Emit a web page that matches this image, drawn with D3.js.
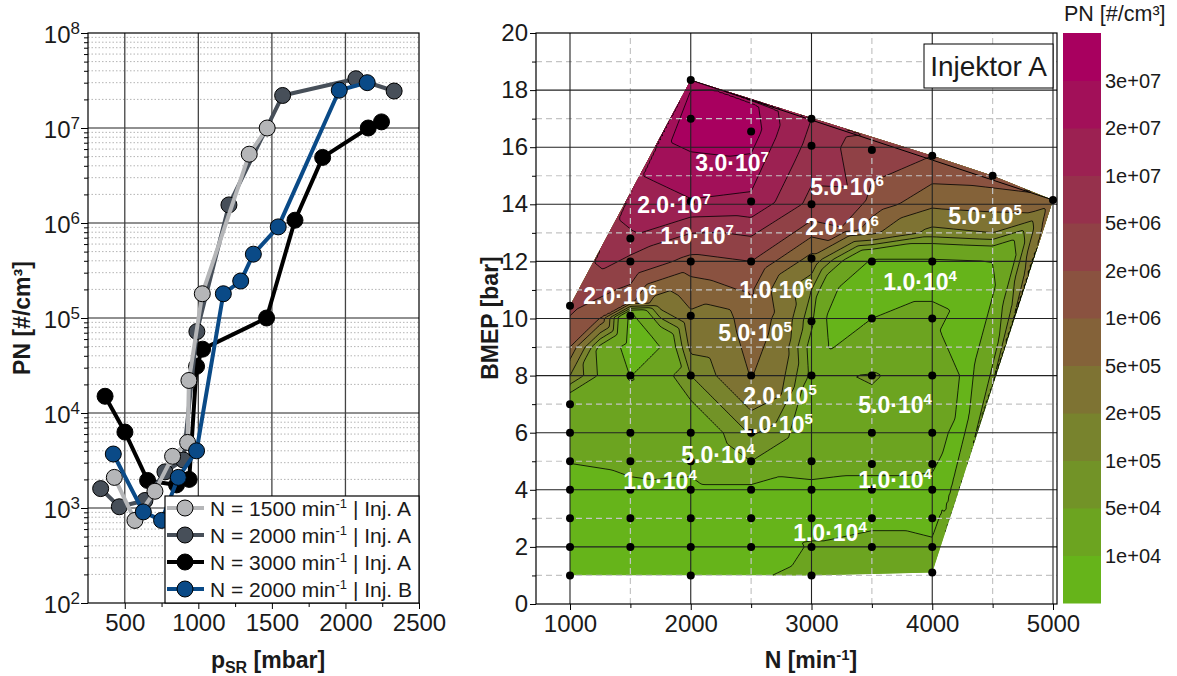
<!DOCTYPE html>
<html>
<head>
<meta charset="utf-8">
<script src="https://cdn.jsdelivr.net/npm/d3@7"></script>
<style>
  body { margin: 0; background: #fff; }
  svg { font-family: "Liberation Sans", Arial, sans-serif; }
</style>
</head>
<body>
<svg id="chart" width="1177" height="676"></svg>
<script>
// ---------- data: left panel, PN over rail pressure ----------
const pSR1500A = [429, 569, 705, 825, 927, 936, 1027, 1346, 1468]
const pn1500A = [2.1e3, 740, 1.5e3, 3.5e3, 4.9e3, 2.2e4, 1.8e5, 5.3e6, 1.0e7]
const pSR2000A = [336, 463, 637, 773, 898, 990, 1208, 1573, 2071, 2331]
const pn2000A = [1.6e3, 1.03e3, 1.2e3, 2.4e3, 3.2e3, 7.2e4, 1.55e6, 2.2e7, 3.3e7, 2.45e7]
const pSR3000A = [366, 501, 655, 852, 938, 988, 1029, 1464, 1657, 1845, 2155, 2245]
const pn3000A = [1.5e4, 6.3e3, 1.95e3, 1.75e3, 2.0e3, 3.1e4, 4.7e4, 1.0e5, 1.07e6, 4.9e6, 1.0e7, 1.16e7]
const pSR2000B = [422, 626, 750, 864, 988, 1170, 1288, 1374, 1543, 1958, 2148]
const pn2000B = [3.7e3, 910, 740, 2.1e3, 4.0e3, 1.8e5, 2.45e5, 4.7e5, 9.1e5, 2.5e7, 3.0e7]

const seriesNames = ['1500', '2000', '3000', '2000']
const seriesInj = ['A', 'A', 'A', 'B']
const seriesColors = ['#b5b6b8', '#474f59', '#000000', '#0a4a87']

// ---------- data: right panel, measured PN map [BMEP, PN] per engine speed ----------
const map1000 = [[1, 5e3], [2, 5e3], [3, 5e3], [4, 5.5e3], [5, 1.05e4], [6, 1.2e4], [7, 2e4], [10.45, 2.5e6]]
const map1500 = [[2, 5e3], [3, 6e3], [4, 8e3], [5, 1.3e4], [6, 1.6e4], [8, 9.5e3], [10.1, 7e3], [12, 4e6], [12.8, 9e6]]
const map2000 = [[1, 5e3], [2, 5e3], [3, 6e3], [4, 7e3], [5, 1.5e4], [6, 2e4], [8, 1e5], [10.1, 4.5e5], [12, 1.5e6], [14.1, 1.95e7], [17, 4e7], [18.35, 2.7e7]]
const map2500 = [[2, 5e3], [3, 6e3], [4, 7e3], [5, 5e4], [6, 1.1e5], [8, 5.2e5], [12, 2e6], [14.1, 1.8e7], [16.55, 3.8e7]]
const map3000 = [[1, 1.4e4], [2, 1.1e4], [3, 7e3], [4, 8e3], [5, 1.5e4], [8, 4e4], [9.9, 6e4], [12.1, 4e5], [14, 4e6], [16.05, 8e6], [17, 1e7]]
const map3500 = [[2, 1.6e4], [3, 7e3], [4, 8e3], [4.9, 1.2e4], [6, 3e4], [8, 5.5e4], [10, 1e4], [12, 8e3], [15.9, 3e6]]
const map4000 = [[1.1, 1.3e4], [2, 1.2e4], [3, 7e3], [4, 7e3], [4.9, 1.2e4], [6, 1.5e4], [8, 3e4], [10, 1.1e4], [12, 8e3], [15.7, 2e6]]
const map4500 = [[15, 1.3e6]]
const map5000 = [[14.15, 9e5]]
const mapSpeeds = [1000, 1500, 2000, 2500, 3000, 3500, 4000, 4500, 5000]
const mapCols = [map1000, map1500, map2000, map2500, map3000, map3500, map4000, map4500, map5000]

const mapRead = [
  [1000, 8, 2e5], [1000, 9, 1e6], [1250, 9, 4e4], [1250, 10, 1e6], [1500, 9, 5e3],
  [1500, 10.6, 1.2e6], [1750, 9, 1e4], [1750, 10.5, 3e5], [2000, 9, 2.5e5], [2000, 11, 7e5],
  [2250, 9, 3e5], [2250, 10, 3.5e5], [2500, 10, 8e5], [2500, 11, 1.1e6],
  [2750, 8, 2.5e5], [2750, 9, 3.5e5], [2750, 10, 4e5], [2750, 7.3, 2e5], [2700, 6.3, 1e5],
  [3000, 11, 1e5], [3150, 10, 7e3], [3150, 9, 9e3], [3250, 11, 7e3],
  [3250, 13.2, 2e6], [3300, 14.6, 5e6], [3500, 13, 6e5], [3500, 14, 1.5e6],
  [4000, 13, 1.5e5], [4000, 14, 6e5], [4500, 12, 1e4], [4500, 13, 2e5], [4500, 14, 7e5],
  [4500, 11, 8e3], [4300, 8, 7e3], [4250, 6, 7e3],
  [1600, 15.0, 2e7], [2500, 17.5, 3.5e7]
]

const pnLevels = [1e4, 5e4, 1e5, 2e5, 5e5, 1e6, 2e6, 5e6, 1e7, 2e7, 3e7]

// contour labels: N, BMEP, mantissa, exponent
const contourLabels = [
  [2342, 15.45, '3.0', 7], [1861, 13.98, '2.0', 7], [2052, 12.89, '1.0', 7],
  [3294, 14.61, '5.0', 6], [3253, 13.2, '2.0', 6], [4437, 13.59, '5.0', 5],
  [1414, 10.79, '2.0', 6], [2706, 11.0, '1.0', 6], [3899, 11.28, '1.0', 4],
  [2532, 9.49, '5.0', 5], [2739, 7.29, '2.0', 5], [3692, 6.97, '5.0', 4],
  [2706, 6.27, '1.0', 5], [2226, 5.22, '5.0', 4], [1745, 4.31, '1.0', 4],
  [3692, 4.34, '1.0', 4], [3153, 2.49, '1.0', 4]
]

const svg = d3.select('#chart')
const ink = '#1a1a1a'
const styleAxis = g => g.attr('font-family', null).attr('font-size', null)

// =============== left panel ===============
const xL = d3.scaleLinear().domain([250, 2500]).range([88, 419])
const yL = d3.scaleLog().domain([1e2, 1e8]).range([603, 33])
const left = svg.append('g')

const minorY = []
for (let e = 2; e < 8; e++) for (let m = 2; m <= 9; m++) minorY.push(m * 10 ** e)

left.selectAll('.minorGrid').data(minorY).join('line')
  .attr('x1', xL(250)).attr('x2', xL(2500))
  .attr('y1', d => yL(d)).attr('y2', d => yL(d))
  .attr('stroke', '#b4b4b4').attr('stroke-width', 1).attr('stroke-dasharray', '1.5,2')

left.selectAll('.majorGridY').data([1e3, 1e4, 1e5, 1e6, 1e7]).join('line')
  .attr('x1', xL(250)).attr('x2', xL(2500))
  .attr('y1', d => yL(d)).attr('y2', d => yL(d))
  .attr('stroke', '#222').attr('stroke-width', 1.2)

left.selectAll('.majorGridX').data([500, 1000, 1500, 2000]).join('line')
  .attr('x1', d => xL(d)).attr('x2', d => xL(d))
  .attr('y1', yL(1e2)).attr('y2', yL(1e8))
  .attr('stroke', '#444').attr('stroke-width', 1.3)

// axes
left.append('g').attr('transform', `translate(${xL(250)},0)`)
  .call(d3.axisLeft(yL).tickValues(minorY).tickSize(4).tickFormat(''))
  .call(g => g.select('.domain').remove())
const yAxL = left.append('g').attr('transform', `translate(${xL(250)},0)`)
  .call(d3.axisLeft(yL).tickValues([1e2, 1e3, 1e4, 1e5, 1e6, 1e7, 1e8]).tickSize(7).tickPadding(1).tickFormat(''))
  .call(g => g.select('.domain').remove())
  .call(styleAxis)
yAxL.selectAll('.tick text').each(function (d) {
  const t = d3.select(this).attr('font-size', 24).attr('fill', ink).attr('dy', '0.4em')
  t.text('10')
  t.append('tspan').attr('dy', '-0.55em').attr('font-size', 17).text(Math.round(Math.log10(d)))
})

left.append('g').attr('transform', `translate(0,${yL(1e2)})`)
  .call(d3.axisBottom(xL).tickValues([750, 1250, 1750, 2250]).tickSize(4).tickFormat(''))
  .call(g => g.select('.domain').remove())
left.append('g').attr('transform', `translate(0,${yL(1e2)})`)
  .call(d3.axisBottom(xL).tickValues([500, 1000, 1500, 2000, 2500]).tickSize(6).tickPadding(5).tickFormat(d3.format('d')))
  .call(g => g.select('.domain').remove())
  .call(styleAxis)
  .call(g => g.selectAll('text').attr('font-size', 24).attr('fill', ink))

left.append('rect')
  .attr('x', xL(250)).attr('y', yL(1e8))
  .attr('width', xL(2500) - xL(250)).attr('height', yL(1e2) - yL(1e8))
  .attr('fill', 'none').attr('stroke', '#000').attr('stroke-width', 1.2)

// series
const seriesData = [
  d3.zip(pSR3000A, pn3000A),
  d3.zip(pSR2000A, pn2000A),
  d3.zip(pSR1500A, pn1500A),
  d3.zip(pSR2000B, pn2000B)
]
const seriesIdx = [2, 1, 0, 3]
const line = d3.line().x(d => xL(d[0])).y(d => yL(d[1]))
seriesData.forEach((data, k) => {
  const col = seriesColors[seriesIdx[k]]
  const g = left.append('g')
  g.append('path').attr('d', line(data))
    .attr('fill', 'none').attr('stroke', col).attr('stroke-width', 4).attr('stroke-linejoin', 'round')
  g.selectAll('circle').data(data).join('circle')
    .attr('cx', d => xL(d[0])).attr('cy', d => yL(d[1])).attr('r', 8)
    .attr('fill', col).attr('stroke', '#000').attr('stroke-width', 1)
})

// legend
const leg = left.append('g')
leg.append('rect').attr('x', 165).attr('y', 496).attr('width', 254).attr('height', 107)
  .attr('fill', '#fff').attr('stroke', '#000').attr('stroke-width', 1.2)
seriesNames.forEach((n, i) => {
  const y = 508 + i * 27
  leg.append('line').attr('x1', 167).attr('x2', 204).attr('y1', y).attr('y2', y)
    .attr('stroke', seriesColors[i]).attr('stroke-width', 4)
  leg.append('circle').attr('cx', 185).attr('cy', y).attr('r', 8)
    .attr('fill', seriesColors[i]).attr('stroke', '#000')
  const t = leg.append('text').attr('x', 210).attr('y', y).attr('dy', '0.36em')
    .attr('font-size', 21).attr('fill', ink)
  t.append('tspan').text(`N = ${n} min`)
  t.append('tspan').attr('dy', -8).attr('font-size', 13).text('-1')
  t.append('tspan').attr('dy', 8).text(` | Inj. ${seriesInj[i]}`)
})

// axis titles
const tx = svg.append('text').attr('x', 268).attr('y', 668).attr('text-anchor', 'middle')
  .attr('font-size', 23).attr('font-weight', 'bold').attr('fill', ink)
tx.append('tspan').text('p')
tx.append('tspan').attr('dy', 5).attr('font-size', 16).text('SR')
tx.append('tspan').attr('dy', -5).text(' [mbar]')
svg.append('text').attr('transform', 'translate(30,318) rotate(-90)').attr('text-anchor', 'middle')
  .attr('font-size', 23).attr('font-weight', 'bold').attr('fill', ink).text('PN [#/cm³]')

// =============== right panel ===============
const xR = d3.scaleLinear().domain([1000, 5000]).range([570, 1053])
const yR = d3.scaleLinear().domain([0, 20]).range([604, 33])
const px0 = 536, px1 = 1057
const right = svg.append('g')

const measured = []
mapCols.forEach((col, k) => col.forEach(([b, pn]) => measured.push([xR(mapSpeeds[k]), yR(b), Math.log10(pn)])))
const pts = measured.concat(mapRead.map(([n, b, pn]) => [xR(n), yR(b), Math.log10(pn)]))

// linear interpolation on the Delaunay triangulation
const delaunay = d3.Delaunay.from(pts, p => p[0], p => p[1])
const cell = 2
const gy0 = yR(20)
const nx = Math.ceil((px1 - px0) / cell) + 1
const ny = Math.ceil((yR(0) - gy0) / cell) + 1
const grid = new Array(nx * ny)
for (let j = 0; j < ny; j++) for (let i = 0; i < nx; i++) {
  grid[j * nx + i] = pts[delaunay.find(px0 + i * cell, gy0 + j * cell)][2]
}
const tri = delaunay.triangles
for (let t = 0; t < tri.length; t += 3) {
  const a = pts[tri[t]], b = pts[tri[t + 1]], c = pts[tri[t + 2]]
  const det = (b[1] - c[1]) * (a[0] - c[0]) + (c[0] - b[0]) * (a[1] - c[1])
  if (Math.abs(det) < 1e-9) continue
  const i0 = Math.max(0, Math.floor((Math.min(a[0], b[0], c[0]) - px0) / cell))
  const i1 = Math.min(nx - 1, Math.ceil((Math.max(a[0], b[0], c[0]) - px0) / cell))
  const j0 = Math.max(0, Math.floor((Math.min(a[1], b[1], c[1]) - gy0) / cell))
  const j1 = Math.min(ny - 1, Math.ceil((Math.max(a[1], b[1], c[1]) - gy0) / cell))
  for (let j = j0; j <= j1; j++) for (let i = i0; i <= i1; i++) {
    const x = px0 + i * cell, y = gy0 + j * cell
    const l1 = ((b[1] - c[1]) * (x - c[0]) + (c[0] - b[0]) * (y - c[1])) / det
    const l2 = ((c[1] - a[1]) * (x - c[0]) + (a[0] - c[0]) * (y - c[1])) / det
    const l3 = 1 - l1 - l2
    if (l1 >= -1e-6 && l2 >= -1e-6 && l3 >= -1e-6) grid[j * nx + i] = l1 * a[2] + l2 * b[2] + l3 * c[2]
  }
}

const bandColor = d3.scaleLinear().domain([0, 11]).range(['#66b41a', '#a8005f']).interpolate(d3.interpolateRgb)
const contours = d3.contours().size([nx, ny]).thresholds(pnLevels.map(Math.log10))(grid)
const cpath = d3.geoPath(d3.geoIdentity().scale(cell).translate([px0 - cell / 2, gy0 - cell / 2]))

const hull = d3.polygonHull(measured.map(p => [p[0], p[1]]))
svg.append('defs').append('clipPath').attr('id', 'hullClip')
  .append('path').attr('d', 'M' + hull.join('L') + 'Z')

const mapG = right.append('g').attr('clip-path', 'url(#hullClip)')
mapG.append('path').attr('d', 'M' + hull.join('L') + 'Z').attr('fill', bandColor(0))
mapG.selectAll('.band').data(contours).join('path')
  .attr('d', cpath).attr('fill', (d, i) => bandColor(i + 1))
mapG.selectAll('.iso').data(contours).join('path')
  .attr('d', cpath).attr('fill', 'none').attr('stroke', '#000').attr('stroke-width', 0.8)

// top edge of the measured region
right.append('line')
  .attr('x1', xR(2000)).attr('y1', yR(18.35)).attr('x2', xR(5000)).attr('y2', yR(14.15))
  .attr('stroke', '#000').attr('stroke-width', 1)

// grid over the map
right.selectAll('.dashY').data(d3.range(1, 20, 2)).join('line')
  .attr('x1', px0).attr('x2', px1).attr('y1', d => yR(d)).attr('y2', d => yR(d))
  .attr('stroke', '#c4c4c4').attr('stroke-width', 1.2).attr('stroke-dasharray', '6,4')
right.selectAll('.dashX').data([1500, 2500, 3500, 4500]).join('line')
  .attr('x1', d => xR(d)).attr('x2', d => xR(d)).attr('y1', yR(0)).attr('y2', yR(20))
  .attr('stroke', '#c4c4c4').attr('stroke-width', 1.2).attr('stroke-dasharray', '6,4')
right.selectAll('.solidY').data(d3.range(2, 20, 2)).join('line')
  .attr('x1', px0).attr('x2', px1).attr('y1', d => yR(d)).attr('y2', d => yR(d))
  .attr('stroke', '#222').attr('stroke-width', 1.1)
right.selectAll('.solidX').data([1000, 2000, 3000, 4000, 5000]).join('line')
  .attr('x1', d => xR(d)).attr('x2', d => xR(d)).attr('y1', yR(0)).attr('y2', yR(20))
  .attr('stroke', '#222').attr('stroke-width', 1.1)

// measuring points
right.selectAll('.pt').data(measured).join('circle')
  .attr('cx', d => d[0]).attr('cy', d => d[1]).attr('r', 4).attr('fill', '#000')

// contour labels
const clab = right.selectAll('.clab').data(contourLabels).join('text')
  .attr('x', d => xR(d[0])).attr('y', d => yR(d[1])).attr('dy', '0.36em')
  .attr('text-anchor', 'middle').attr('font-size', 23).attr('font-weight', 'bold').attr('fill', '#fff')
clab.append('tspan').text(d => d[2] + '·10')
clab.append('tspan').attr('dy', -9).attr('font-size', 15).text(d => d[3])

// axes
right.append('g').attr('transform', `translate(${px0},0)`)
  .call(d3.axisLeft(yR).tickValues(d3.range(1, 20, 2)).tickSize(4).tickFormat(''))
  .call(g => g.select('.domain').remove())
right.append('g').attr('transform', `translate(${px0},0)`)
  .call(d3.axisLeft(yR).tickValues(d3.range(0, 21, 2)).tickSize(6).tickPadding(2))
  .call(g => g.select('.domain').remove())
  .call(styleAxis)
  .call(g => g.selectAll('text').attr('font-size', 24).attr('fill', ink))
right.append('g').attr('transform', `translate(0,${yR(0)})`)
  .call(d3.axisBottom(xR).tickValues([1500, 2500, 3500, 4500]).tickSize(4).tickFormat(''))
  .call(g => g.select('.domain').remove())
right.append('g').attr('transform', `translate(0,${yR(0)})`)
  .call(d3.axisBottom(xR).tickValues([1000, 2000, 3000, 4000, 5000]).tickSize(6).tickPadding(5).tickFormat(d3.format('d')))
  .call(g => g.select('.domain').remove())
  .call(styleAxis)
  .call(g => g.selectAll('text').attr('font-size', 24).attr('fill', ink))

right.append('rect').attr('x', px0).attr('y', yR(20)).attr('width', px1 - px0).attr('height', yR(0) - yR(20))
  .attr('fill', 'none').attr('stroke', '#000').attr('stroke-width', 1.2)

// Injektor A box
right.append('rect').attr('x', 924).attr('y', 44).attr('width', 129).attr('height', 44)
  .attr('fill', '#fff').attr('stroke', '#000').attr('stroke-width', 1)
right.append('text').attr('x', 988.5).attr('y', 66).attr('dy', '0.36em').attr('text-anchor', 'middle')
  .attr('font-size', 28).attr('fill', ink).text('Injektor A')

// axis titles
const tn = svg.append('text').attr('x', 811).attr('y', 668).attr('text-anchor', 'middle')
  .attr('font-size', 23).attr('font-weight', 'bold').attr('fill', ink)
tn.append('tspan').text('N [min')
tn.append('tspan').attr('dy', -8).attr('font-size', 15).text('-1')
tn.append('tspan').attr('dy', 8).text(']')
svg.append('text').attr('transform', 'translate(498,318) rotate(-90)').attr('text-anchor', 'middle')
  .attr('font-size', 23).attr('font-weight', 'bold').attr('fill', ink).text('BMEP [bar]')

// colour bar
const yC = d3.scaleLinear().domain([0, 12]).range([603, 33])
const cbar = svg.append('g')
cbar.selectAll('rect').data(d3.range(12)).join('rect')
  .attr('x', 1063).attr('width', 38)
  .attr('y', d => yC(d + 1)).attr('height', d => yC(d) - yC(d + 1) + 0.5)
  .attr('fill', d => bandColor(d))
cbar.selectAll('text').data(pnLevels).join('text')
  .attr('x', 1105).attr('y', (d, i) => yC(i + 1)).attr('dy', '0.36em')
  .attr('font-size', 20).attr('fill', ink)
  .text(d => d.toExponential(0).replace(/e\+(\d)$/, 'e+0$1'))
svg.append('text').attr('x', 1064).attr('y', 21).attr('font-size', 21.5).attr('fill', ink).text('PN [#/cm³]')
</script>
</body>
</html>
